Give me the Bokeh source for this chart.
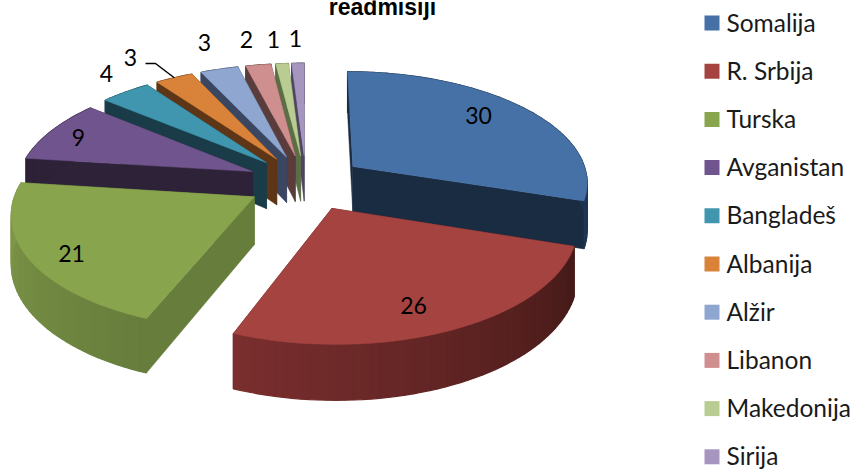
import numpy as np
from bokeh.plotting import figure
from bokeh.embed import file_html
from bokeh.resources import INLINE
from bokeh.core.properties import value

# --- data ---
countries = ["Somalija", "R. Srbija", "Turska", "Avganistan", "Bangladeš",
             "Albanija", "Alžir", "Libanon", "Makedonija", "Sirija"]
counts = [30, 26, 21, 9, 4, 3, 3, 2, 1, 1]
title_text = "readmisiji"

# --- styles ---
top_colors = ["#4571a7", "#a54341", "#88a44d", "#70548d", "#3f96ae",
              "#d9833a", "#8fa7d0", "#ce8f8e", "#b9cd92", "#a696bf"]
side_colors = ["#1a2c42", "#5a201f", "#677d3c", "#2d2238", "#1a3c48",
               "#5e3617", "#3b4760", "#5a3c3c", "#5b6e45", "#4e4560"]
rim_from = ["#1a2c42", "#441a18", "#677d3c", "#2d2238", "#1a3c48",
            "#5e3617", "#3b4760", "#5a3c3c", "#5b6e45", "#4e4560"]
rim_to = ["#1f3553", "#7a2e2e", "#80994a", "#2d2238", "#1a3c48",
          "#5e3617", "#3b4760", "#5a3c3c", "#5b6e45", "#4e4560"]
label_x = [478, 413, 71, 78, 106, 130, 204, 246, 273, 295]
label_y = [115, 305, 253, 137, 73, 57, 42, 39, 39, 38]
paint_order = [9, 8, 7, 6, 5, 4, 3, 0, 2, 1]

# --- projection of the tilted pie ---
CX, CY, RX, RY, PERSP, EXPLODE, DEPTH = 305.5, 182.0, 236.0, 111.0, 0.13, 0.25, 47.0
WIDTH, HEIGHT = 857, 469


def project(u, v, lower=False):
    w = 1 - PERSP * np.asarray(v)
    x = CX + RX * np.asarray(u) / w
    y = CY + RY * np.asarray(v) / w
    if lower:
        y = y + DEPTH / w
    return x, y


def mix(a, b, t):
    ca = [int(a[i:i + 2], 16) for i in (1, 3, 5)]
    cb = [int(b[i:i + 2], 16) for i in (1, 3, 5)]
    return "#%02x%02x%02x" % tuple(int(round(p + (q - p) * t)) for p, q in zip(ca, cb))


p = figure(width=WIDTH, height=HEIGHT, x_range=(0, WIDTH), y_range=(HEIGHT, 0),
           output_backend="svg", toolbar_location=None, min_border=0,
           margin=(0, 0, 0, 0), outline_line_color=None,
           background_fill_color="white", border_fill_color="white")
p.xaxis.visible = False
p.yaxis.visible = False
p.grid.visible = False

total = sum(counts)
edges = np.concatenate([[0], np.cumsum(counts)]) / total * 2 * np.pi

for i in paint_order:
    t0, t1 = edges[i], edges[i + 1]
    mid = (t0 + t1) / 2
    ou, ov = EXPLODE * np.sin(mid), -EXPLODE * np.cos(mid)
    th = np.linspace(t0, t1, max(int(counts[i] * 2), 4) + 1)
    us, vs = ou + np.sin(th), ov - np.cos(th)

    ax, ay = project(ou, ov)
    bx, by = project(ou, ov, lower=True)
    tx, ty = project(us, vs)
    lx, ly = project(us, vs, lower=True)

    # radial side faces
    xs = [[ax, tx[k], lx[k], bx] for k in (0, -1)]
    ys = [[ay, ty[k], ly[k], by] for k in (0, -1)]
    p.patches(xs, ys, fill_color=side_colors[i], line_color=side_colors[i], line_width=0.5)

    # outer rim, shaded along the arc
    rx, ry, rc = [], [], []
    for k in range(len(th) - 1):
        rx.append([tx[k], tx[k + 1], lx[k + 1], lx[k]])
        ry.append([ty[k], ty[k + 1], ly[k + 1], ly[k]])
        rc.append(mix(rim_from[i], rim_to[i], k / max(len(th) - 2, 1)))
    p.patches(rx, ry, fill_color=rc, line_color=rc, line_width=1.2)

    # top face
    p.patch(np.concatenate([[ax], tx]), np.concatenate([[ay], ty]),
            fill_color=top_colors[i], line_color=top_colors[i], line_width=0.5)

# data labels
p.text(label_x, label_y, text=[str(c) for c in counts], text_font=value("Lato"),
       text_font_size="23px", text_color="#000000", text_align="center",
       text_baseline="middle")

# leader line for the Albanija label
a_mid = (edges[5] + edges[6]) / 2
a_u = EXPLODE * np.sin(a_mid) + np.sin(a_mid)
a_v = -EXPLODE * np.cos(a_mid) - np.cos(a_mid)
end_x, end_y = project(a_u, a_v)
p.line([145, 155, float(end_x)], [63, 63, float(end_y)], line_color="#000000", line_width=1.5)

# title, cut by the top edge as in the source picture
p.text([382], [6], text=[title_text], text_font=value("Liberation Sans"),
       text_font_style="bold", text_font_size="23px", text_color="#000000",
       text_align="center", text_baseline="alphabetic")

# legend
rows = np.arange(len(countries))
p.rect(711.5 + 0 * rows, 22.5 + 48.2 * rows, width=15, height=15,
       fill_color=top_colors, line_color=None)
p.text(726 + 0 * rows, 21.5 + 48.2 * rows, text=countries, text_font=value("Lato"),
       text_font_size="24.5px", text_color="#1a1a1a", text_align="left",
       text_baseline="middle")

open("out.html", "w").write(file_html(p, INLINE))
